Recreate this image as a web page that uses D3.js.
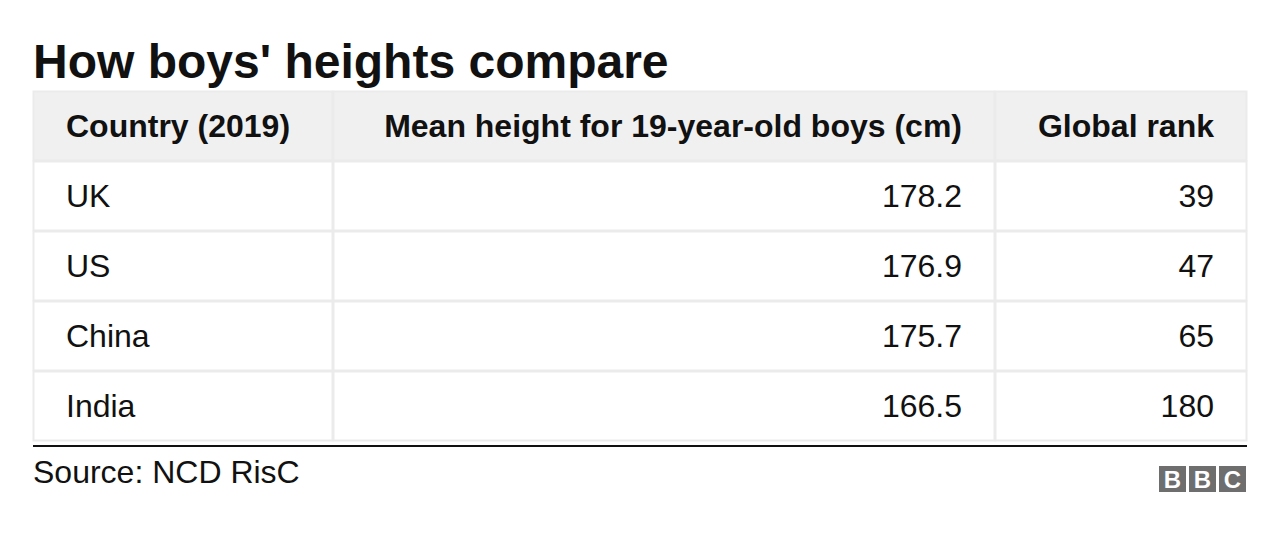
<!DOCTYPE html>
<html><head><meta charset="utf-8">
<script src="https://cdn.jsdelivr.net/npm/d3@7"></script>
<style>body{margin:0;background:#fff}</style>
</head><body>
<svg id="c" width="1280" height="534"></svg>
<script>
const headers = ["Country (2019)", "Mean height for 19-year-old boys (cm)", "Global rank"];
const countries = ["UK", "US", "China", "India"];
const heights = ["178.2", "176.9", "175.7", "166.5"];
const ranks = ["39", "47", "65", "180"];

const svg = d3.select("#c");
const F = "'Liberation Sans', Arial, sans-serif";
svg.append("text").attr("x",33).attr("y",78).attr("font-family",F).attr("font-weight","bold")
  .attr("font-size",48).attr("fill","#111").text("How boys' heights compare");

const colX = [33, 333, 995, 1247];
const rowY = [91, 161, 231, 301, 371, 441];
const align = ["start","end","end"];
const pad = 33;
const g = svg.append("g");
g.append("rect").attr("x",33).attr("y",91).attr("width",1214).attr("height",70).attr("fill","#f0f0f0");
for (let r=0;r<5;r++) for (let c=0;c<3;c++) {
  g.append("rect").attr("x",colX[c]+0.5).attr("y",rowY[r]+0.5)
   .attr("width",colX[c+1]-colX[c]-1).attr("height",rowY[r+1]-rowY[r]-1)
   .attr("fill","none").attr("stroke","#ebebeb").attr("stroke-width",2);
}
const rows = [headers, ...countries.map((d,i)=>[d, heights[i], ranks[i]])];
rows.forEach((row,r)=>{
  row.forEach((t,c)=>{
    const x = align[c]==="start" ? colX[c]+pad : colX[c+1]-pad;
    g.append("text").attr("x",x).attr("y",(rowY[r]+rowY[r+1])/2+11)
     .attr("text-anchor",align[c]).attr("font-family",F).attr("font-size",32)
     .attr("font-weight", r===0?"bold":"normal").attr("fill","#111").text(t);
  });
});
svg.append("rect").attr("x",33).attr("y",445).attr("width",1214).attr("height",2).attr("fill","#111");
svg.append("text").attr("x",33).attr("y",483).attr("font-family",F).attr("font-size",32)
  .attr("fill","#111").text("Source: NCD RisC");
const logo = svg.append("g");
["B","B","C"].forEach((t,i)=>{
  const x = 1159 + i*30;
  logo.append("rect").attr("x",x).attr("y",466).attr("width",27).attr("height",26).attr("fill","#6e6e6e");
  logo.append("text").attr("x",x+13.5).attr("y",488).attr("text-anchor","middle")
   .attr("font-family",F).attr("font-weight","bold").attr("font-size",24).attr("fill","#fff").text(t);
});
</script>
</body></html>
